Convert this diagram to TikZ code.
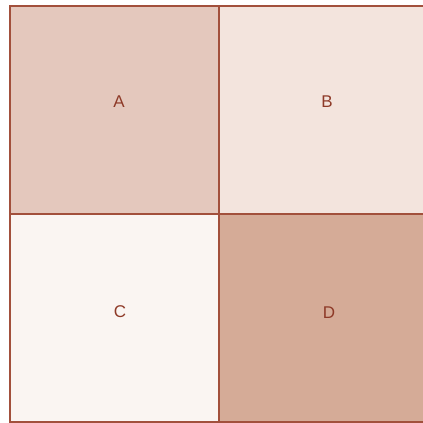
\documentclass[tikz,border=0pt]{standalone}
\usepackage{fontspec}
\setmainfont{Liberation Sans}
\definecolor{cA}{HTML}{E4C8BD}
\definecolor{cB}{HTML}{F3E4DD}
\definecolor{cC}{HTML}{FAF5F2}
\definecolor{cD}{HTML}{D5AB97}
\definecolor{edge}{HTML}{A2503C}
\definecolor{txt}{HTML}{8E3A28}
\begin{document}
\begin{tikzpicture}[x=1pt,y=-1pt,
  cell/.style={draw=edge,line width=1.6pt},
  lbl/.style={text=txt,font=\fontsize{17}{19}\selectfont,inner sep=0pt}]
\useasboundingbox (0,0) rectangle (423,423);
\fill[white] (0,0) rectangle (423,423);
\filldraw[cell,fill=cA] (10,6) rectangle (219,214);
\filldraw[cell,fill=cB] (219,6) rectangle (428,214);
\filldraw[cell,fill=cC] (10,214) rectangle (219,422);
\filldraw[cell,fill=cD] (219,214) rectangle (428,422);
\node[lbl] (A) at (119,102) {A};
\node[lbl] (B) at (327,102) {B};
\node[lbl] (C) at (120,312) {C};
\node[lbl] (D) at (329,313) {D};
\end{tikzpicture}
\end{document}
